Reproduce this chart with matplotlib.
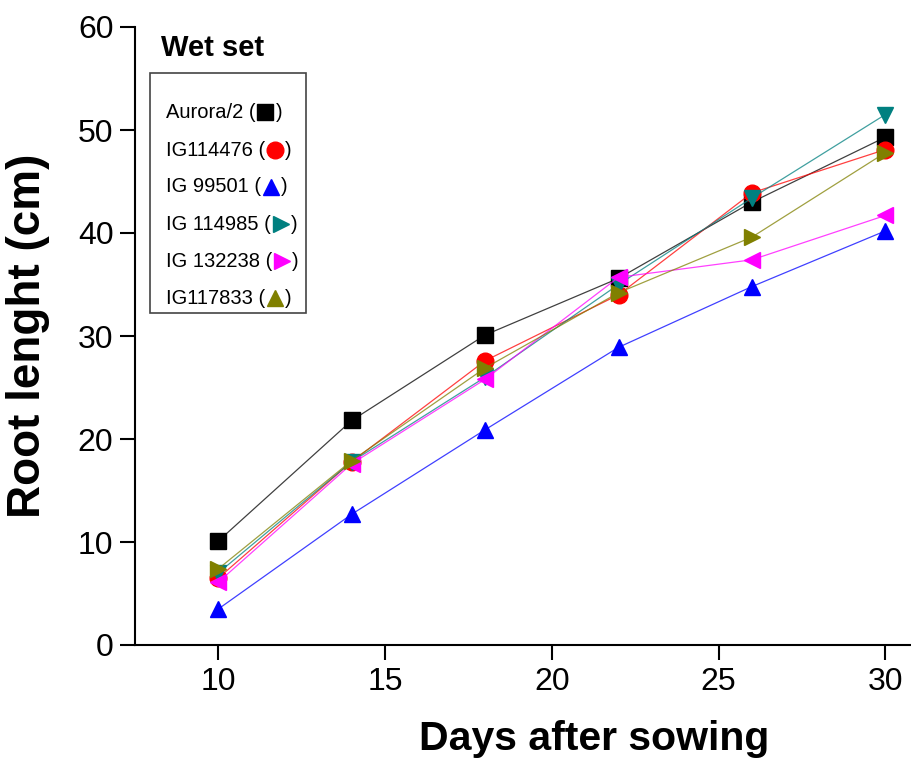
import matplotlib
matplotlib.use("Agg")
import matplotlib.pyplot as plt
from matplotlib.colors import to_rgba
from matplotlib.lines import Line2D
from matplotlib.patches import Rectangle

plt.rcParams['font.family'] = ['Liberation Sans', 'DejaVu Sans']

# Root length (cm) per line
days = [10, 14, 18, 22, 26, 30]
aurora = [10.1, 21.8, 30.1, 35.6, 43.0, 49.3]
ig114476 = [6.5, 17.8, 27.6, 34.0, 43.9, 48.1]
ig99501 = [3.5, 12.7, 20.9, 28.9, 34.8, 40.2]
ig114985 = [7.0, 17.8, 26.0, 35.0, 43.4, 51.5]
ig132238 = [6.1, 17.6, 25.8, 35.7, 37.4, 41.7]
ig117833 = [7.4, 17.9, 26.9, 34.2, 39.6, 47.8]

names = ['Aurora/2', 'IG114476', 'IG 99501', 'IG 114985', 'IG 132238', 'IG117833']
series = [aurora, ig114476, ig99501, ig114985, ig132238, ig117833]
colors = ['black', '#ff0000', '#0000ff', '#008080', '#ff00ff', '#808000']
plot_markers = ['s', 'o', '^', 'v', '<', '>']
legend_markers = ['s', 'o', '^', '>', '>', '^']

W, H = 912, 762
fig = plt.figure(figsize=(W / 100, H / 100), dpi=100)
ax = fig.add_axes([135 / W, 1 - 645 / H, 1 - 135 / W, (645 - 27) / H])

# thin, slightly faded lines with solid markers
for vals, c, m in zip(series, colors, plot_markers):
    ax.plot(days, vals, color=to_rgba(c, 0.75), lw=0.9, marker=m, markersize=12,
            markerfacecolor=c, markeredgecolor=c)

ax.set_xlim(7.5, 30.8)
ax.set_ylim(0, 60)
ax.set_xticks([10, 15, 20, 25, 30])
ax.set_yticks([0, 10, 20, 30, 40, 50, 60])
ax.tick_params(direction='out', length=10.5, width=1.5, labelsize=23, pad=5)
for s in ['top', 'right']:
    ax.spines[s].set_visible(False)
for s in ['left', 'bottom']:
    ax.spines[s].set_linewidth(1.5)

ax.set_xlabel('Days after sowing', fontsize=29.5, fontweight='bold')
ax.xaxis.set_label_coords((594 - 135) / (W - 135), -0.122)
ax.set_ylabel('Root lenght (cm)', fontsize=33, fontweight='bold')
ax.yaxis.set_label_coords((50 - 135) / (W - 135), 0.5)

# legend drawn by hand: title, frame, text rows with coloured symbols
fig.text(161 / W, 1 - 48 / H, 'Wet set', fontsize=21, fontweight='bold', va='center')
fig.add_artist(Rectangle((150 / W, 1 - 313 / H), (306 - 150) / W, (313 - 73) / H,
                         transform=fig.transFigure, fill=False, ec='#444444', lw=1.2))
renderer = fig.canvas.get_renderer()
rows_y = [112, 150, 187, 224, 261, 298]
for name, c, m, ry in zip(names, colors, legend_markers, rows_y):
    t = fig.text(166 / W, 1 - ry / H, name + ' (', fontsize=14.5, va='center')
    bb = t.get_window_extent(renderer=renderer)
    mx = bb.x1 + 10
    fig.add_artist(Line2D([mx / W], [1 - ry / H], transform=fig.transFigure,
                          marker=m, color=c, markersize=12, linestyle='none'))
    fig.text((mx + 10) / W, 1 - ry / H, ')', fontsize=14.5, va='center')

fig.savefig('out.png', dpi=100)
